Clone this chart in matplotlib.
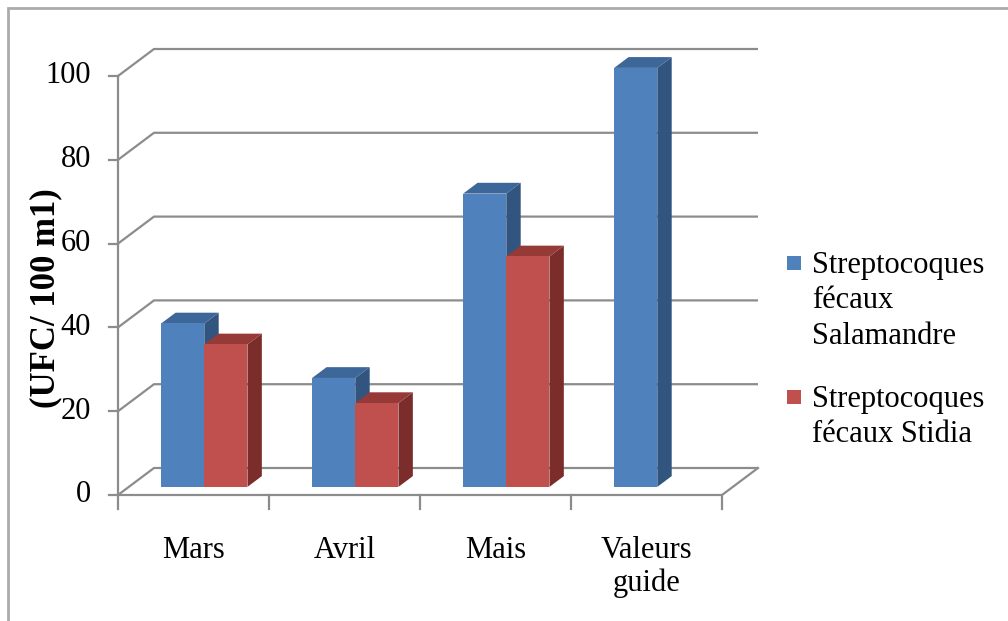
import matplotlib
matplotlib.use("Agg")
import matplotlib.pyplot as plt
from matplotlib.patches import Polygon, Rectangle
import numpy as np

# --- data -------------------------------------------------------------
categories = ["Mars", "Avril", "Mais", "Valeurs\nguide"]
series_names = ["Streptocoques\nfécaux\nSalamandre", "Streptocoques\nfécaux Stidia"]
salamandre = [39, 26, 70, 100]
stidia = [34, 20, 55, None]
y_ticks = [0, 20, 40, 60, 80, 100]
y_label = "(UFC/ 100 m1)"

# --- style ------------------------------------------------------------
plt.rcParams["font.family"] = ["Liberation Serif", "DejaVu Serif"]
face_cols = ["#4F81BD", "#C0504D"]
top_cols = ["#3D6699", "#963A37"]
side_cols = ["#32557F", "#7B2D2B"]
grid_col = "#8C8C8C"

W_PX, H_PX = 1008, 621
fig = plt.figure(figsize=(W_PX / 100, H_PX / 100), dpi=100)
ax = fig.add_axes([0, 0, 1, 1])
ax.set_axis_off()

# Map the canvas so that one x unit is one category and one y unit is one
# value unit on the front plane of the plot box.
X0_PX, CAT_PX = 118.0, 151.0
Y0_PX, UNIT_PX = 495.0, 4.19
ax.set_xlim(-X0_PX / CAT_PX, (W_PX - X0_PX) / CAT_PX)
ax.set_ylim((Y0_PX - H_PX) / UNIT_PX, Y0_PX / UNIT_PX)

# oblique depth offset (full depth of the box)
DX = 36.0 / CAT_PX
DY = 27.0 / UNIT_PX
n_cat = len(categories)
y_max = 100


def proj(x, y, z):
    return (x + z * DX, y + z * DY)


def px(xp, yp):
    return ((xp - X0_PX) / CAT_PX, (Y0_PX - yp) / UNIT_PX)


# outer frame of the chart
fx0, fy0 = px(8, 8)
fx1, fy1 = px(1015, 630)
ax.add_patch(Rectangle((fx0, fy1), fx1 - fx0, fy0 - fy1, fill=False,
                       edgecolor="#ABABAB", lw=2.0, zorder=1))

# walls: gridlines on side and back wall, floor outline
for v in y_ticks:
    xs, ys = zip((0, v), proj(0, v, 1), proj(n_cat, v, 1))
    ax.plot(xs, ys, color=grid_col, lw=1.6, zorder=2, solid_capstyle="butt")
    # tick on the value axis
    ax.plot([-9 / CAT_PX, 0], [v, v], color=grid_col, lw=1.6, zorder=2)
    ax.text(-27 / CAT_PX, v, str(v), ha="right", va="center", fontsize=22,
            color="#000000")

xs, ys = zip((0, 0), (n_cat, 0), proj(n_cat, 0, 1))
ax.plot(xs, ys, color=grid_col, lw=1.6, zorder=2)
ax.plot([0, 0], [0, y_max], color=grid_col, lw=1.6, zorder=2)

# category ticks and labels
for i in range(n_cat + 1):
    ax.plot([i, i], [0, -14 / UNIT_PX], color=grid_col, lw=1.6, zorder=2)
for i, lab in enumerate(categories):
    ax.text(i + 0.5, -9.8, lab, ha="center", va="top", fontsize=22,
            linespacing=1.17)

# bars
bw = 1 / 3.5
z0, z1 = 0.3, 0.7
for i in range(n_cat):
    for j, vals in enumerate([salamandre, stidia]):
        v = vals[i]
        if v is None:
            continue
        xa = i + 0.75 * bw + j * bw
        xb = xa + bw
        front = [proj(xa, 0, z0), proj(xb, 0, z0), proj(xb, v, z0), proj(xa, v, z0)]
        top = [proj(xa, v, z0), proj(xb, v, z0), proj(xb, v, z1), proj(xa, v, z1)]
        side = [proj(xb, 0, z0), proj(xb, 0, z1), proj(xb, v, z1), proj(xb, v, z0)]
        zo = 5 + i * 2 + j
        ax.add_patch(Polygon(side, closed=True, facecolor=side_cols[j],
                             edgecolor="none", zorder=zo))
        ax.add_patch(Polygon(top, closed=True, facecolor=top_cols[j],
                             edgecolor="none", zorder=zo))
        ax.add_patch(Polygon(front, closed=True, facecolor=face_cols[j],
                             edgecolor="none", zorder=zo))

# y axis title
tx, ty = px(46, 298)
ax.text(tx, ty, y_label, rotation=90, ha="center", va="center",
        fontsize=25, fontweight="bold")

# legend
legend_top_px = [263, 397]
for j, name in enumerate(series_names):
    cy = legend_top_px[j]
    sx0, sy0 = px(787, cy + 7)
    sx1, sy1 = px(801, cy - 7)
    ax.add_patch(Rectangle((sx0, sy0), sx1 - sx0, sy1 - sy0,
                           facecolor=face_cols[j], edgecolor="none", zorder=3))
    lx, ly = px(812, cy - 12)
    ax.text(lx, ly, name, ha="left", va="top", fontsize=22, linespacing=1.29)

fig.savefig("out.png", dpi=100)
